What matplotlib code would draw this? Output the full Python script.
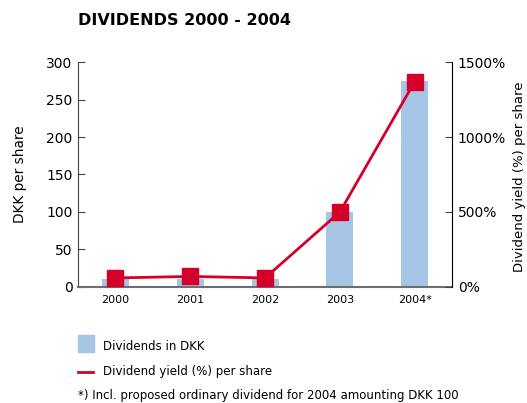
import matplotlib.pyplot as plt
from matplotlib.patches import Rectangle
from matplotlib.lines import Line2D

years = ["2000", "2001", "2002", "2003", "2004*"]
dividends_dkk = [10, 10, 10, 100, 275]
yield_pct = [60, 70, 60, 500, 1370]

BAR_COLOR = "#a7c6e6"
LINE_COLOR = "#d5002a"


def main():
    fig = plt.figure(figsize=(5.27, 4.03), dpi=100)
    ax = fig.add_axes([0.148, 0.288, 0.71, 0.558])

    x = range(len(years))
    ax.bar(x, dividends_dkk, width=0.36, color=BAR_COLOR, zorder=1)
    ax.set_xlim(-0.5, 4.5)
    ax.set_ylim(0, 300)
    ax.set_yticks([0, 50, 100, 150, 200, 250, 300])
    ax.set_xticks(list(x))
    ax.set_xticklabels(years, fontsize=8)
    ax.tick_params(axis="x", length=0, pad=6)
    ax.tick_params(axis="y", direction="in", length=5, labelsize=10,
                   pad=4, color="#444444")
    ax.set_ylabel("DKK per share", fontsize=9.8, labelpad=14)
    for side in ["top", "right"]:
        ax.spines[side].set_visible(False)
    ax.spines["left"].set_color("#444444")
    ax.spines["bottom"].set_color("#6e6e6e")
    ax.spines["bottom"].set_linewidth(1.5)

    ax2 = ax.twinx()
    ax2.plot(x, yield_pct, color=LINE_COLOR, lw=2, marker="s", markersize=12,
             zorder=3)
    ax2.set_ylim(0, 1500)
    ax2.set_yticks([0, 500, 1000, 1500])
    ax2.set_yticklabels(["0%", "500%", "1000%", "1500%"])
    ax2.tick_params(axis="y", direction="in", length=5, labelsize=10,
                    pad=4, color="#444444")
    for side in ["top", "left", "bottom"]:
        ax2.spines[side].set_visible(False)
    # right-hand axis title sits close to the figure edge
    fig.text(519 / 527, 1 - 177 / 403, "Dividend yield (%) per share",
             fontsize=9.5, rotation=90, ha="center", va="center")

    fig.text(0.148, 0.95, "DIVIDENDS 2000 - 2004", fontsize=11.5,
             fontweight="bold", va="center")

    # legend drawn by hand below the chart
    fig.patches.append(Rectangle((78 / 527, 1 - 352 / 403), 16 / 527, 17 / 403,
                                 transform=fig.transFigure, color=BAR_COLOR))
    fig.text(103 / 527, 1 - 347 / 403, "Dividends in DKK", fontsize=8.5,
             va="center")
    fig.lines.append(Line2D([78 / 527, 93 / 527], [1 - 372 / 403, 1 - 372 / 403],
                            transform=fig.transFigure, color=LINE_COLOR, lw=2))
    fig.text(103 / 527, 1 - 371 / 403, "Dividend yield (%) per share",
             fontsize=8.5, va="center")
    fig.text(78 / 527, 1 - 396 / 403,
             "*) Incl. proposed ordinary dividend for 2004 amounting DKK 100",
             fontsize=8.5, va="center")

    fig.savefig("out.png", dpi=100)


if __name__ == "__main__":
    main()
